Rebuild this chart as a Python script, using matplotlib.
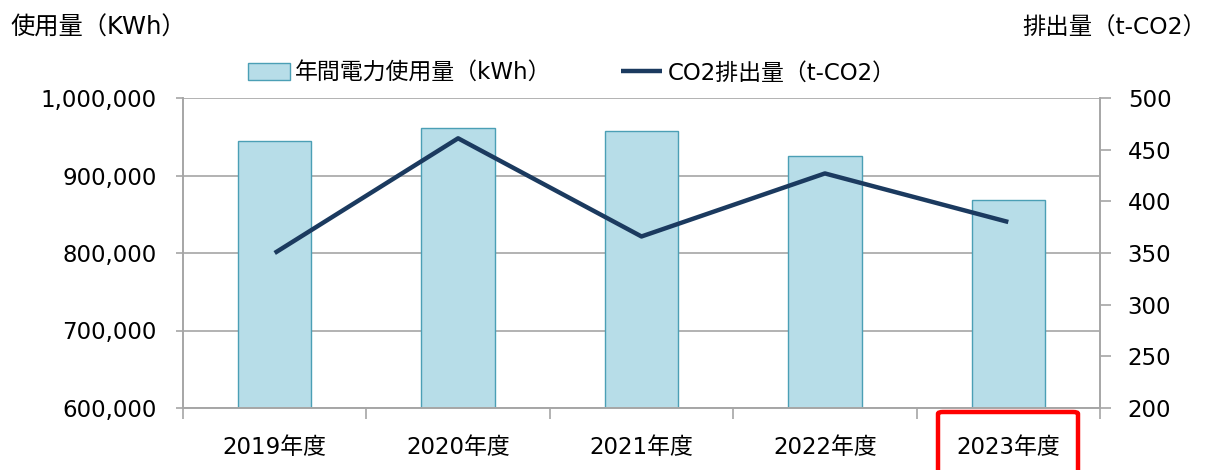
import matplotlib
matplotlib.use("Agg")
import numpy as np
import matplotlib.pyplot as plt
from matplotlib.patches import FancyBboxPatch
from matplotlib.ticker import FuncFormatter, FixedLocator

plt.rcParams['font.family'] = ['DejaVu Sans', 'Noto Sans CJK JP']

# ----- datos ------------------------------------------------------------------
years = ["2019年度", "2020年度", "2021年度", "2022年度", "2023年度"]
usage_kwh = [944500, 961000, 957000, 925000, 868000]
co2_t = [350, 461, 366, 427, 380]
# ------------------------------------------------------------------------------

GRID = "#A6A6A6"
BAR_FACE = "#B7DDE8"
BAR_EDGE = "#4B9FB5"
LINE = "#1B3A5F"
FS = 16.5

fig = plt.figure(figsize=(12.08, 4.70), dpi=100)
ax = fig.add_axes([183 / 1208, 1 - 408 / 470, (1100 - 183) / 1208, (408 - 98) / 470])
ax2 = ax.twinx()

x = np.arange(len(years))
bars = ax.bar(x, usage_kwh, width=0.4, color=BAR_FACE, edgecolor=BAR_EDGE,
              linewidth=1.0, zorder=2, label="年間電力使用量（kWh）")
line, = ax2.plot(x, co2_t, color=LINE, lw=3.2, zorder=3,
                 solid_capstyle="butt", label="CO2排出量（t-CO2）")

ax.set_xlim(-0.5, len(years) - 0.5)
ax.set_ylim(600000, 1000000)
ax.set_yticks(np.arange(600000, 1000001, 100000))
ax.yaxis.set_major_formatter(FuncFormatter(lambda v, p: f"{int(v):,}"))
ax.grid(axis="y", color=GRID, lw=1.2, zorder=0)
ax.set_axisbelow(True)

ax2.set_ylim(200, 500)
ax2.set_yticks(np.arange(200, 501, 50))

# ticks
ax.set_xticks(x)
ax.set_xticklabels(years, fontsize=FS)
ax.xaxis.set_minor_locator(FixedLocator(np.arange(-0.5, len(years), 1.0)))
ax.tick_params(axis="x", which="major", length=0, pad=20)
ax.tick_params(axis="x", which="minor", length=8, color=GRID, width=1.2)
ax.tick_params(axis="y", length=5, color=GRID, width=1.2, labelsize=FS, pad=14)
ax2.tick_params(axis="y", length=8, color=GRID, width=1.2, labelsize=FS, pad=12)

for a in (ax, ax2):
    a.spines["top"].set_visible(False)
    for s in ("left", "right", "bottom"):
        a.spines[s].set_color(GRID)
        a.spines[s].set_linewidth(1.2)

# titulos de ejes
fig.text(10 / 1208, 1 - 28 / 470, "使用量（KWh）", fontsize=17.5, va="center", ha="left")
fig.text(1206 / 1208, 1 - 28 / 470, "排出量（t-CO2）", fontsize=16.8, va="center", ha="right")

# leyenda
fig.legend([bars, line], [bars.get_label(), line.get_label()], ncol=2,
           loc="center", bbox_to_anchor=(572 / 1208, 1 - 73 / 470),
           frameon=False, fontsize=FS, handlelength=1.8, handleheight=0.7,
           columnspacing=3.0, handletextpad=0.25)

# recuadro rojo
box = FancyBboxPatch((938 / 1208, -0.05), (1078 - 938) / 1208, (0.05 + 1 - 412 / 470),
                     boxstyle="round,pad=0,rounding_size=0.004",
                     transform=fig.transFigure, fill=False, edgecolor="#FF0000",
                     lw=3.2, clip_on=False)
fig.patches.append(box)

fig.savefig("out.png", dpi=100)
